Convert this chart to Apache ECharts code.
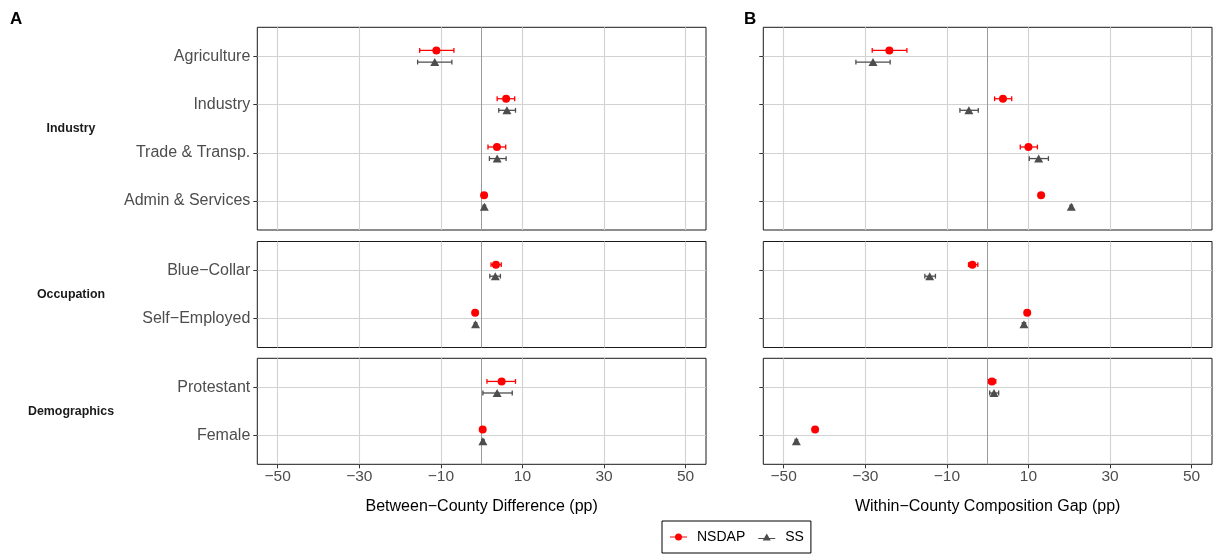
<!DOCTYPE html>
<html><head><meta charset="utf-8">
<script src="https://cdn.jsdelivr.net/npm/echarts@6/dist/echarts.min.js"></script>
<style>html,body{margin:0;padding:0;background:#fff}#c{width:1213px;height:555px}</style>
</head><body><div id="c"></div>
<script>
// ---------- data ----------
const industryCats = ['Agriculture', 'Industry', 'Trade & Transp.', 'Admin & Services'];
const occupationCats = ['Blue\u2212Collar', 'Self\u2212Employed'];
const demographicCats = ['Protestant', 'Female'];
const facetLabels = ['Industry', 'Occupation', 'Demographics'];
const xTicks = [-50, -30, -10, 10, 30, 50];
const seriesNames = ['NSDAP', 'SS'];
const panelTitles = ['Between\u2212County Difference (pp)', 'Within\u2212County Composition Gap (pp)'];
const panelLetters = ['A', 'B'];

// order: Agriculture, Industry, Trade & Transp., Admin & Services, Blue-Collar, Self-Employed, Protestant, Female
const betweenNsdapEst = [-11.1, 6.0, 3.75, 0.6, 3.5, -1.6, 4.9, 0.25];
const betweenNsdapLo  = [-15.2, 3.8, 1.55, 0.3, 2.3, -1.9, 1.3, 0.0];
const betweenNsdapHi  = [-6.8, 8.1, 5.9, 0.9, 4.8, -1.3, 8.3, 0.5];
const betweenSsEst = [-11.5, 6.2, 3.8, 0.65, 3.35, -1.5, 3.8, 0.3];
const betweenSsLo  = [-15.7, 4.2, 1.9, 0.35, 2.0, -1.8, 0.3, 0.0];
const betweenSsHi  = [-7.3, 8.3, 6.0, 0.95, 4.6, -1.2, 7.5, 0.6];

const withinNsdapEst = [-24.1, 3.75, 10.0, 13.1, -3.75, 9.7, 1.05, -42.3];
const withinNsdapLo  = [-28.3, 1.7, 8.0, 12.8, -4.7, 9.4, 0.2, -42.6];
const withinNsdapHi  = [-19.8, 5.9, 12.2, 13.4, -2.4, 10.0, 2.0, -42.0];
const withinSsEst = [-28.1, -4.6, 12.5, 20.5, -14.2, 8.9, 1.55, -46.9];
const withinSsLo  = [-32.3, -6.8, 10.2, 20.2, -15.4, 8.5, 0.5, -47.2];
const withinSsHi  = [-23.9, -2.3, 14.9, 20.8, -12.8, 9.3, 2.7, -46.6];

// ---------- layout ----------
const facetCats = [industryCats, occupationCats, demographicCats];
const panels = [
  { nsdap: [betweenNsdapEst, betweenNsdapLo, betweenNsdapHi], ss: [betweenSsEst, betweenSsLo, betweenSsHi] },
  { nsdap: [withinNsdapEst, withinNsdapLo, withinNsdapHi], ss: [withinSsEst, withinSsLo, withinSsHi] }
];
const panelLeft = [257.3, 763.3];
const panelWidth = 448.7;
const facetTop = [27.3, 241.5, 358.3];
const facetHeight = [202.7, 106, 106];
const dodge = 0.12;
const colors = { NSDAP: '#ff0000', SS: '#4d4d4d' };
const FONT = 'Liberation Sans, Arial, Helvetica, sans-serif';

function fmtTick(v) { return v < 0 ? '\u2212' + Math.abs(v) : String(v); }

function renderErrorBar(params, api) {
  const y = api.value(2);
  const p1 = api.coord([api.value(0), y]);
  const p2 = api.coord([api.value(1), y]);
  const cap = 2.4;
  const style = { stroke: api.visual('color'), lineWidth: 1.3, fill: null };
  return { type: 'group', children: [
    { type: 'line', shape: { x1: p1[0], y1: p1[1], x2: p2[0], y2: p2[1] }, style: style },
    { type: 'line', shape: { x1: p1[0], y1: p1[1] - cap, x2: p1[0], y2: p1[1] + cap }, style: style },
    { type: 'line', shape: { x1: p2[0], y1: p2[1] - cap, x2: p2[0], y2: p2[1] + cap }, style: style }
  ]};
}

const grids = [], xAxes = [], yAxes = [], series = [], graphics = [];
const facetStart = [0, 4, 6];
for (let p = 0; p < 2; p++) {
  for (let f = 0; f < 3; f++) {
    const g = p * 3 + f;
    const cats = facetCats[f];
    const n = cats.length;
    const yVals = cats.map((c, i) => i + 1);
    grids.push({ left: panelLeft[p], top: facetTop[f], width: panelWidth, height: facetHeight[f],
      show: true, borderColor: '#1a1a1a', borderWidth: 1, backgroundColor: '#fff', containLabel: false });
    const bottom = f === 2;
    xAxes.push({
      type: 'value', gridIndex: g, min: -55, max: 55, position: 'bottom',
      axisLine: { show: false, onZero: false },
      axisTick: { show: bottom, length: 4, customValues: xTicks, lineStyle: { color: '#333' } },
      axisLabel: { show: bottom, customValues: xTicks, formatter: fmtTick, color: '#4d4d4d', fontSize: 15.5, fontFamily: FONT, margin: 4 },
      splitLine: { show: true, lineStyle: { color: '#d2d2d2', width: 1.1 } },
      name: bottom ? panelTitles[p] : '', nameLocation: 'middle', nameGap: 34,
      nameTextStyle: { color: '#000', fontSize: 16, fontFamily: FONT }
    });
    yAxes.push({
      type: 'value', gridIndex: g, inverse: true, min: 0.4, max: n + 0.6, position: 'left',
      axisLine: { show: false, onZero: false },
      axisTick: { show: true, length: 4, customValues: yVals, lineStyle: { color: '#333' } },
      axisLabel: { show: p === 0, customValues: yVals, formatter: v => cats[Math.round(v) - 1] || '',
        color: '#4d4d4d', fontSize: 16, fontFamily: FONT, margin: 7 },
      splitLine: { show: true, lineStyle: { color: '#d2d2d2', width: 1.1 } }
    });
    const start = facetStart[f];
    seriesNames.forEach((name, si) => {
      const arrs = si === 0 ? panels[p].nsdap : panels[p].ss;
      const dy = si === 0 ? -dodge : dodge;
      const ebData = [], ptData = [];
      for (let i = 0; i < n; i++) {
        ebData.push([arrs[1][start + i], arrs[2][start + i], i + 1 + dy]);
        ptData.push([arrs[0][start + i], i + 1 + dy]);
      }
      series.push({
        name: name, type: 'custom', xAxisIndex: g, yAxisIndex: g, renderItem: renderErrorBar,
        itemStyle: { color: colors[name] }, encode: { x: [0, 1], y: 2 }, data: ebData, silent: true, z: 3
      });
      const sc = {
        name: name, type: 'scatter', xAxisIndex: g, yAxisIndex: g, data: ptData, z: 4,
        symbol: si === 0 ? 'circle' : 'triangle', symbolSize: si === 0 ? 8 : [9, 8],
        itemStyle: { color: colors[name], opacity: 1 }
      };
      if (si === 0) {
        sc.markLine = { silent: true, symbol: ['none', 'none'], label: { show: false },
          lineStyle: { color: '#9a9a9a', type: 'solid', width: 1 }, data: [{ xAxis: 0 }], z: 2 };
      }
      series.push(sc);
    });
    if (p === 0) {
      graphics.push({ type: 'text', x: 71, y: facetTop[f] + facetHeight[f] / 2,
        style: { text: facetLabels[f], font: 'bold 12.4px ' + FONT, fill: '#1a1a1a', textAlign: 'center', textVerticalAlign: 'middle' } });
    }
  }
}
graphics.push({ type: 'text', x: 10, y: 19.5, style: { text: panelLetters[0], font: 'bold 17px ' + FONT, fill: '#000', textAlign: 'left', textVerticalAlign: 'middle' } });
graphics.push({ type: 'text', x: 744, y: 19, style: { text: panelLetters[1], font: 'bold 17px ' + FONT, fill: '#000', textAlign: 'left', textVerticalAlign: 'middle' } });

const iconN = 'path://M0,3 L17,3 L17,4.2 L0,4.2 Z M5,3.6 A3.5,3.5 0 1 1 12,3.6 A3.5,3.5 0 1 1 5,3.6 Z';
const iconS = 'path://M0,4.4 L17,4.4 L17,5.6 L0,5.6 Z M8.5,0 L12.5,7 L4.5,7 Z';

const option = {
  animation: false,
  backgroundColor: '#fff',
  textStyle: { fontFamily: FONT },
  grid: grids, xAxis: xAxes, yAxis: yAxes, series: series,
  graphic: graphics,
  legend: {
    left: 662, top: 521, orient: 'horizontal',
    padding: [9, 7, 9, 8], itemGap: 13, itemWidth: 17, itemHeight: 7,
    borderColor: '#000', borderWidth: 1, selectedMode: false,
    textStyle: { fontSize: 14, color: '#000', fontFamily: FONT, padding: [0, 0, 0, 5] },
    data: [
      { name: 'NSDAP', icon: iconN, itemStyle: { color: colors.NSDAP } },
      { name: 'SS', icon: iconS, itemStyle: { color: colors.SS } }
    ]
  }
};
const chart = echarts.init(document.getElementById('c'), null, { renderer: 'canvas' });
chart.setOption(option);
</script></body></html>
